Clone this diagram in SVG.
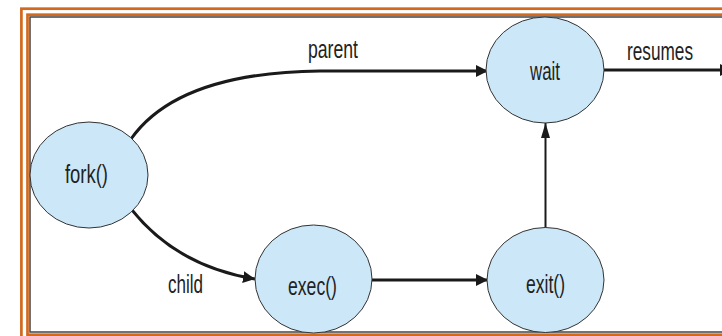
<svg xmlns="http://www.w3.org/2000/svg" width="722" height="336" viewBox="0 0 722 336">
<style>
.node{fill:#cce8f8;stroke:#333;stroke-width:1}
.lbl{font-family:"Liberation Sans",Arial,sans-serif;font-size:25px;fill:#222}
.edge{fill:none;stroke:#1a1a1a;stroke-width:3}
.frame{fill:none;stroke:#d2691e}
</style>
<defs>
<marker id="ah" markerUnits="userSpaceOnUse" markerWidth="14" markerHeight="12" refX="12" refY="6" orient="auto">
<path d="M0,0 L12,6 L0,12 Z" fill="#1a1a1a"/>
</marker>
<marker id="ah2" markerUnits="userSpaceOnUse" markerWidth="16" markerHeight="10" refX="15" refY="5" orient="auto">
<path d="M0,0.5 L15,5 L0,9.5 Z" fill="#1a1a1a"/>
</marker>
</defs>
<rect width="722" height="336" fill="#fff"/>
<g id="frame">
<rect class="frame" x="21.4" y="8.7" width="760" height="360" stroke-width="2.7"/>
<rect class="frame" x="27.5" y="14.7" width="760" height="320" stroke-width="2.7"/>
<rect x="30" y="17" width="760" height="315" fill="none" stroke="#444" stroke-width="1.5"/>
</g>
<g id="connectors">
<path class="edge" d="M131,139 C160,98 220,72 320,71 L488,71" marker-end="url(#ah)"/>
<path class="edge" d="M604,70 L732,70" marker-end="url(#ah)"/>
<path class="edge" d="M132,210 C160,245 200,270 255,279" marker-end="url(#ah)"/>
<path class="edge" d="M372,280 L488,280" marker-end="url(#ah)"/>
<path class="edge" style="stroke-width:2" d="M545.5,228 L545.5,123" marker-end="url(#ah2)"/>
<text class="lbl" x="308" y="58" textLength="50" lengthAdjust="spacingAndGlyphs">parent</text>
<text class="lbl" x="627" y="60" textLength="66" lengthAdjust="spacingAndGlyphs">resumes</text>
<text class="lbl" x="168" y="293" textLength="35" lengthAdjust="spacingAndGlyphs">child</text>
</g>
<g id="fork">
<ellipse class="node" cx="89" cy="175" rx="59" ry="53"/>
<text class="lbl" x="65" y="183" textLength="43" lengthAdjust="spacingAndGlyphs">fork()</text>
</g>
<g id="wait">
<ellipse class="node" cx="545" cy="70" rx="59" ry="53"/>
<text class="lbl" x="530" y="80" textLength="30" lengthAdjust="spacingAndGlyphs">wait</text>
</g>
<g id="exec">
<ellipse class="node" cx="313.5" cy="279" rx="58.5" ry="54"/>
<text class="lbl" x="288" y="295" textLength="49" lengthAdjust="spacingAndGlyphs">exec()</text>
</g>
<g id="exit">
<ellipse class="node" cx="545.5" cy="280" rx="58.5" ry="52.5"/>
<text class="lbl" x="526" y="293" textLength="39" lengthAdjust="spacingAndGlyphs">exit()</text>
</g>
</svg>
